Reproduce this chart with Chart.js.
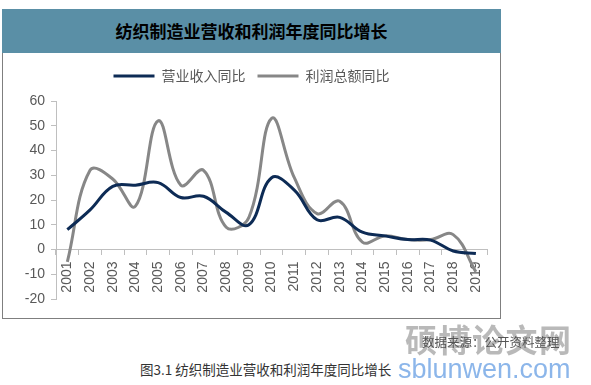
<!DOCTYPE html>
<html>
<head>
<meta charset="utf-8">
<script src="https://cdn.jsdelivr.net/npm/chart.js@4/dist/chart.umd.min.js"></script>
<style>
  html, body { margin: 0; padding: 0; background: #fff; }
  body { width: 591px; height: 385px; position: relative; overflow: hidden;
         font-family: "Noto Sans CJK SC", "DejaVu Sans", sans-serif; }
  #frame { position: absolute; left: 2px; top: 9px; width: 499px; height: 310px;
           box-sizing: border-box; border: 1px solid #7f7f7f; }
  #band { position: absolute; left: 2px; top: 9px; width: 499px; height: 44px;
          background: #5a8fa6; color: #000; font-weight: bold; font-size: 17px;
          line-height: 44px; text-align: center; }
  #wrap { position: absolute; left: 3px; top: 53px; width: 497px; height: 265px; }
  .note { position: absolute; color: #333; font-size: 13.5px; white-space: nowrap; }
  .wm { position: absolute; white-space: nowrap; }
</style>
</head>
<body>
<div id="frame"></div>
<div id="band">纺织制造业营收和利润年度同比增长</div>
<div id="wrap"><canvas id="chart" width="497" height="265"></canvas></div>

<div class="wm" style="left:405px; top:315px; font-size:32px; color:rgba(100,100,100,0.45); letter-spacing:1.5px; font-weight:bold;">硕博论文网</div>
<div class="note" style="left:422px; top:332px; color:#555; font-size:12.5px;">数据来源：公开资料整理</div>
<div class="note" style="left:140px; top:359px;">图3.1 纺织制造业营收和利润年度同比增长</div>
<div class="wm" style="left:398px; top:354px; font-size:27px; color:#8cb6ea; font-family:'Liberation Sans', Arial, sans-serif;">sblunwen.com</div>

<script>
// ── Data ─────────────────────────────────────────────────────────────────────
const years = ["2001", "2002", "2003", "2004", "2005", "2006", "2007", "2008", "2009", "2010",
               "2011", "2012", "2013", "2014", "2015", "2016", "2017", "2018", "2019"];
const revenueYoY = [8, 16, 25.5, 26, 27, 21, 21.5, 15, 10, 29, 24, 12, 13, 7, 5.5, 4, 3.8, -0.6, -1.6];
const profitYoY  = [-5, 32, 28.5, 17.5, 52, 26, 32, 9, 13, 53, 29, 14.5, 19.5, 3, 5.5, 4, 4, 6, -9];
const yTicks = [-20, -10, 0, 10, 20, 30, 40, 50, 60];

const NAVY = "#0d2b55";
const GRAY = "#878787";
const AXIS = "#bfbfbf";
const TEXT = "#595959";

// legend takes a fixed band so the plot starts where the reference does
const legendSpacer = {
  id: "legendSpacer",
  beforeInit(chart) {
    const fit = chart.legend.fit;
    chart.legend.fit = function () {
      fit.bind(chart.legend)();
      this.height = 44;
    };
  },
};

new Chart(document.getElementById("chart"), {
  type: "line",
  data: {
    labels: years,
    datasets: [
      {
        label: "营业收入同比",
        data: revenueYoY,
        borderColor: NAVY,
        backgroundColor: NAVY,
        borderWidth: 3,
        pointRadius: 0,
        tension: 0.4,
      },
      {
        label: "利润总额同比",
        data: profitYoY,
        borderColor: GRAY,
        backgroundColor: GRAY,
        borderWidth: 3,
        pointRadius: 0,
        tension: 0.4,
      },
    ],
  },
  options: {
    responsive: false,
    animation: false,
    layout: { padding: { left: 12, right: 12, top: 4, bottom: 19 } },
    plugins: {
      tooltip: { enabled: false },
      legend: {
        position: "top",
        labels: {
          color: TEXT,
          font: { family: "'Noto Sans CJK SC', sans-serif", size: 14 },
          boxWidth: 41,
          boxHeight: 3,
          padding: 12,
          generateLabels: (chart) =>
            Chart.defaults.plugins.legend.labels.generateLabels(chart).map(it => ({ ...it, lineWidth: 0 })),
        },
      },
    },
    scales: {
      x: {
        position: { y: 0 },
        offset: true,
        grid: { offset: true, drawOnChartArea: false, drawTicks: true, tickLength: 5, color: AXIS },
        border: { display: true, color: AXIS },
        ticks: {
          color: TEXT,
          font: { family: "'Liberation Sans', Arial, sans-serif", size: 14 },
          minRotation: 90,
          maxRotation: 90,
          padding: 7,
          autoSkip: false,
        },
      },
      y: {
        min: -20,
        max: 60,
        afterBuildTicks: (axis) => { axis.ticks = yTicks.map(v => ({ value: v })); },
        afterFit: (axis) => { axis.width = 41; },
        grid: { drawOnChartArea: false, drawTicks: true, tickLength: 5, color: AXIS },
        border: { display: true, color: AXIS },
        ticks: {
          color: TEXT,
          font: { family: "'Liberation Sans', Arial, sans-serif", size: 14 },
          padding: 6,
        },
      },
    },
  },
  plugins: [legendSpacer],
});
</script>
</body>
</html>
